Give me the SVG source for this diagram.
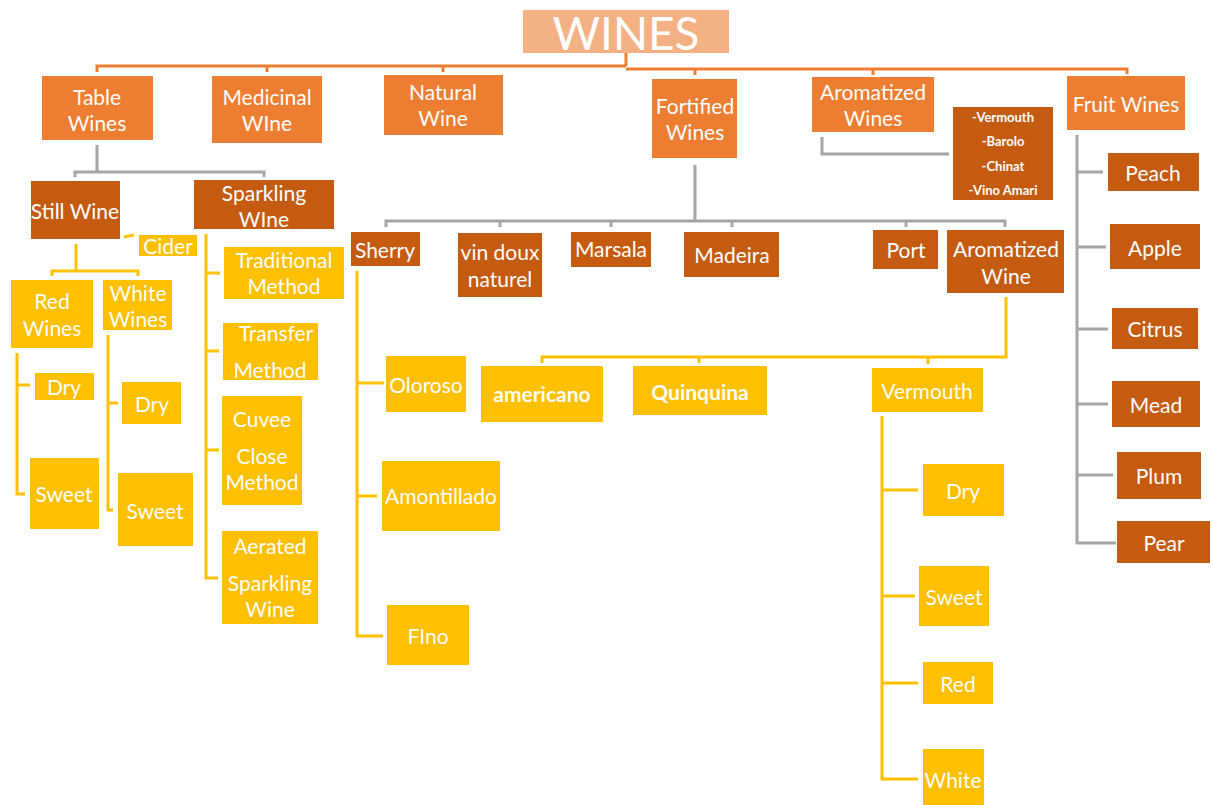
<svg xmlns="http://www.w3.org/2000/svg" width="1212" height="805" viewBox="0 0 1212 805">
<style>
text{font-family:Lato,"Open Sans","Liberation Sans",sans-serif;fill:#fff;text-anchor:middle;dominant-baseline:central;font-size:21px}
.o{fill:#ED7D31}
.d{fill:#C55A11}
.y{fill:#FFC000}
.t{fill:#F4B183}
.b{font-weight:bold}
.s{font-size:13px;font-weight:bold}
.go{fill:none;stroke:#ED7D31;stroke-width:3}
.gg{fill:none;stroke:#A5A5A5;stroke-width:3}
.gy{fill:none;stroke:#FFC000;stroke-width:3}
</style>
<rect width="1212" height="805" fill="#fff"/>
<g id="connectors">
<path class="go" d="M626 53V66M97 72V66H626M267 72V66M443 72V66M626 69H1127V74M695 69V75M873 69V75"/>
<path class="gg" d="M97 145V172M75 177V172H264V177"/>
<path class="gg" d="M822 137V154H949"/>
<path class="gg" d="M1077 135V543H1116M1077 172H1103M1077 247H1106M1077 329H1108M1077 404H1108M1077 475H1113"/>
<path class="gg" d="M695 165V221M386 227V221H1005V227M500 227V221M611 227V221M732 227V221M906 227V221"/>
<path class="gy" d="M124 237L134 235"/>
<path class="gy" d="M76 244V271M52 276V271H138V276"/>
<path class="gy" d="M17 353V494H25M17 385H30"/>
<path class="gy" d="M108 335V510H113M108 403H118"/>
<path class="gy" d="M206 234V578H218M206 273H220M206 351H219M206 450H219"/>
<path class="gy" d="M357 271V636H383M357 383H384M357 496H377"/>
<path class="gy" d="M1006 297V357H542V363M699 357V363M928 357V364"/>
<path class="gy" d="M882 416V779H918M882 490H918M882 596H915M882 683H918"/>
</g>
<g id="wines"><rect class="t" x="523" y="10" width="206" height="43"/><text x="626" y="32" style="font-size:46px">WINES</text></g>
<g id="table-wines"><rect class="o" x="42" y="76" width="111" height="64"/><text x="97" y="96">Table</text><text x="97" y="122">Wines</text></g>
<g id="medicinal-wine"><rect class="o" x="212" y="76" width="110" height="67"/><text x="267" y="96">Medicinal</text><text x="267" y="122">WIne</text></g>
<g id="natural-wine"><rect class="o" x="384" y="75" width="119" height="60"/><text x="443" y="91">Natural</text><text x="443" y="117">Wine</text></g>
<g id="fortified-wines"><rect class="o" x="652" y="79" width="85" height="79"/><text x="695" y="105">Fortified</text><text x="695" y="131">Wines</text></g>
<g id="aromatized-wines"><rect class="o" x="812" y="77" width="122" height="55"/><text x="873" y="91">Aromatized</text><text x="873" y="117">Wines</text></g>
<g id="aromatized-list"><rect class="d" x="953" y="107" width="100" height="93"/><text class="s" x="1003" y="117">-Vermouth</text><text class="s" x="1003" y="141">-Barolo</text><text class="s" x="1003" y="166">-Chinat</text><text class="s" x="1003" y="190">-Vino Amari</text></g>
<g id="fruit-wines"><rect class="o" x="1067" y="76" width="118" height="54"/><text x="1126" y="103">Fruit Wines</text></g>
<g id="peach"><rect class="d" x="1108" y="153" width="91" height="38"/><text x="1153" y="172">Peach</text></g>
<g id="apple"><rect class="d" x="1110" y="224" width="90" height="45"/><text x="1155" y="247">Apple</text></g>
<g id="citrus"><rect class="d" x="1112" y="308" width="86" height="41"/><text x="1155" y="328">Citrus</text></g>
<g id="mead"><rect class="d" x="1112" y="381" width="88" height="46"/><text x="1156" y="404">Mead</text></g>
<g id="plum"><rect class="d" x="1117" y="452" width="84" height="47"/><text x="1159" y="475">Plum</text></g>
<g id="pear"><rect class="d" x="1117" y="521" width="93" height="42"/><text x="1164" y="542">Pear</text></g>
<g id="still-wine"><rect class="d" x="31" y="181" width="89" height="58"/><text x="75" y="210">Still Wine</text></g>
<g id="sparkling-wine"><rect class="d" x="194" y="180" width="140" height="49"/><text x="264" y="192">Sparkling</text><text x="264" y="218">WIne</text></g>
<g id="cider"><rect class="y" x="139" y="235" width="58" height="21"/><text x="168" y="245">Cider</text></g>
<g id="red-wines"><rect class="y" x="11" y="280" width="82" height="68"/><text x="52" y="300">Red</text><text x="52" y="327">Wines</text></g>
<g id="white-wines"><rect class="y" x="103" y="280" width="69" height="50"/><text x="138" y="292">White</text><text x="138" y="318">Wines</text></g>
<g id="red-dry"><rect class="y" x="35" y="373" width="59" height="27"/><text x="64" y="386">Dry</text></g>
<g id="red-sweet"><rect class="y" x="30" y="458" width="69" height="71"/><text x="64" y="493">Sweet</text></g>
<g id="white-dry"><rect class="y" x="122" y="382" width="59" height="42"/><text x="152" y="403">Dry</text></g>
<g id="white-sweet"><rect class="y" x="118" y="473" width="75" height="73"/><text x="155" y="510">Sweet</text></g>
<g id="traditional-method"><rect class="y" x="224" y="247" width="120" height="52"/><text x="284" y="259">Traditional</text><text x="284" y="285">Method</text></g>
<g id="transfer-method"><rect class="y" x="223" y="323" width="95" height="57"/><text x="276" y="332">Transfer</text><text x="270" y="369">Method</text></g>
<g id="cuvee-close-method"><rect class="y" x="222" y="396" width="80" height="109"/><text x="262" y="418">Cuvee</text><text x="262" y="455">Close</text><text x="262" y="481">Method</text></g>
<g id="aerated-sparkling-wine"><rect class="y" x="222" y="531" width="96" height="93"/><text x="270" y="545">Aerated</text><text x="270" y="582">Sparkling</text><text x="270" y="608">Wine</text></g>
<g id="sherry"><rect class="d" x="351" y="232" width="69" height="34"/><text x="385" y="249">Sherry</text></g>
<g id="vin-doux-naturel"><rect class="d" x="458" y="233" width="84" height="64"/><text x="500" y="251">vin doux</text><text x="500" y="278">naturel</text></g>
<g id="marsala"><rect class="d" x="571" y="232" width="80" height="35"/><text x="611" y="248">Marsala</text></g>
<g id="madeira"><rect class="d" x="684" y="232" width="95" height="45"/><text x="732" y="254">Madeira</text></g>
<g id="port"><rect class="d" x="873" y="230" width="65" height="39"/><text x="906" y="249">Port</text></g>
<g id="aromatized-wine"><rect class="d" x="947" y="230" width="117" height="63"/><text x="1006" y="248">Aromatized</text><text x="1006" y="275">Wine</text></g>
<g id="oloroso"><rect class="y" x="386" y="356" width="80" height="56"/><text x="426" y="384">Oloroso</text></g>
<g id="amontillado"><rect class="y" x="382" y="461" width="118" height="70"/><text x="441" y="495">Amontillado</text></g>
<g id="fino"><rect class="y" x="387" y="605" width="82" height="60"/><text x="428" y="635">FIno</text></g>
<g id="americano"><rect class="y" x="481" y="366" width="122" height="56"/><text class="b" x="542" y="393">americano</text></g>
<g id="quinquina"><rect class="y" x="633" y="366" width="134" height="49"/><text class="b" x="700" y="391">Quinquina</text></g>
<g id="vermouth"><rect class="y" x="872" y="368" width="111" height="44"/><text x="927" y="390">Vermouth</text></g>
<g id="vermouth-dry"><rect class="y" x="923" y="464" width="81" height="52"/><text x="963" y="490">Dry</text></g>
<g id="vermouth-sweet"><rect class="y" x="919" y="566" width="70" height="60"/><text x="954" y="596">Sweet</text></g>
<g id="vermouth-red"><rect class="y" x="923" y="662" width="70" height="42"/><text x="958" y="683">Red</text></g>
<g id="vermouth-white"><rect class="y" x="923" y="749" width="61" height="56"/><text x="953" y="779">White</text></g>
</svg>
